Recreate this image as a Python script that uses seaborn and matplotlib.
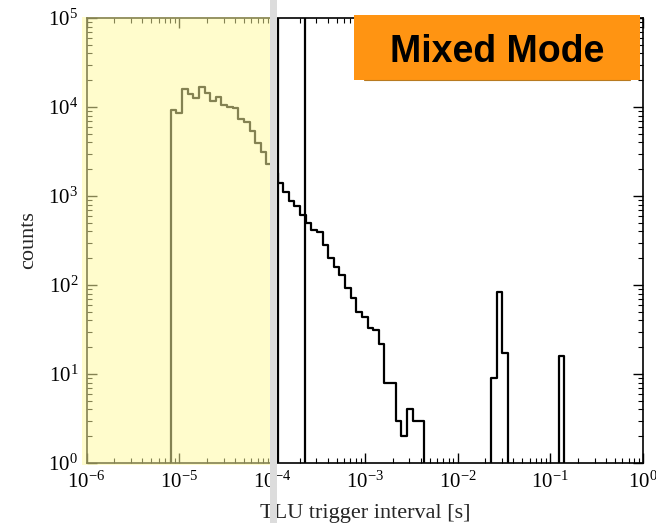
import numpy as np
import pandas as pd
import matplotlib
matplotlib.use("Agg")
import matplotlib.pyplot as plt
import seaborn as sns
from matplotlib.patches import Rectangle
from matplotlib.lines import Line2D

# 99 log-spaced bins from 1 us to 1 s
n_bins = 99
log_range = (-6, 0)
bin_edges = np.logspace(log_range[0], log_range[1], n_bins + 1)
bin_centers = np.sqrt(bin_edges[:-1] * bin_edges[1:])

# counts, grouped by bin ranges
counts_fast = [9250, 8500, 15800, 13900, 12700, 16600, 14300, 11800, 13100, 10500,
               10100, 9700, 7300, 6850, 5370, 3970, 3150, 2270, 1800]          # bins 15-33
counts_tail = [1410, 1100, 880, 780, 610, 494, 415, 391, 281, 200, 158, 130, 93,
               71, 50, 44, 33, 31, 22, 8, 8, 3, 2, 4, 3, 3]                     # bins 34-59
counts_peak = [9, 84, 17]                                                       # bins 72-74
counts_slow = [16]                                                              # bin 84

# vertical marker lines [s]
marker_lines = [1.16e-4, 2.29e-4]

x_label = "TLU trigger interval [s]"
y_label = "counts"
badge_text = "Mixed Mode"

# assemble the full count array
counts = np.zeros(n_bins)
counts[15:34] = counts_fast
counts[34:60] = counts_tail
counts[72:75] = counts_peak
counts[84:85] = counts_slow
df = pd.DataFrame({"interval": bin_centers, "count": counts})

sns.set_style("ticks")
plt.rcParams["font.family"] = ["Liberation Serif", "DejaVu Serif"]
plt.rcParams["mathtext.fontset"] = "stix"

fig = plt.figure(figsize=(6.56, 5.23), dpi=100)
ax = fig.add_axes([86.5 / 656, 60 / 523, (643 - 86.5) / 656, (505 - 60) / 523])

# the histogram itself (log x from seaborn, log y set afterwards so empty bins clip to the floor)
sns.histplot(data=df, x="interval", weights="count", bins=n_bins, binrange=log_range,
             log_scale=(True, False), element="step", fill=False,
             color="black", linewidth=1.6, ax=ax)
ax.set_yscale("log", nonpositive="clip")

for xv in marker_lines:
    ax.axvline(xv, color="black", linewidth=1.6)

ax.set_xlim(1e-6, 1)
ax.set_ylim(1, 1e5)
ax.set_xlabel(x_label, fontsize=16, labelpad=8)
ax.set_ylabel(y_label, fontsize=16, labelpad=7)

ax.tick_params(which="both", direction="in", top=True, right=True, colors="black")
ax.tick_params(which="major", length=7, width=1, labelsize=15, pad=6)
ax.tick_params(which="minor", length=3.5, width=0.8)
for s in ax.spines.values():
    s.set_linewidth(1.2)
    s.set_color("black")

# pale yellow highlight over the short-interval part
fig.add_artist(Rectangle((82 / 656, 58 / 523), 188 / 656, 448 / 523,
                         transform=fig.transFigure, facecolor=(1.0, 0.98, 0.62),
                         alpha=0.52, edgecolor="none", zorder=10))
# grey separator band
fig.add_artist(Rectangle((270 / 656, 0), 7 / 656, 1,
                         transform=fig.transFigure, facecolor="#dcdcdc",
                         edgecolor="none", zorder=11))
# orange badge
fig.add_artist(Rectangle((354 / 656, 443 / 523), 286 / 656, 65 / 523,
                         transform=fig.transFigure, facecolor="#ff9412",
                         edgecolor="none", zorder=12))
fig.add_artist(Line2D([364 / 656, 630 / 656], [443.3 / 523, 443.3 / 523],
                      transform=fig.transFigure, color="#b87a20", linewidth=0.8, zorder=13))
fig.text(497 / 656, 461 / 523, badge_text, ha="center", va="baseline",
         fontsize=27, fontweight="bold", family=["Liberation Sans", "DejaVu Sans"],
         color="black", zorder=13)

fig.savefig("out.png", dpi=100)
